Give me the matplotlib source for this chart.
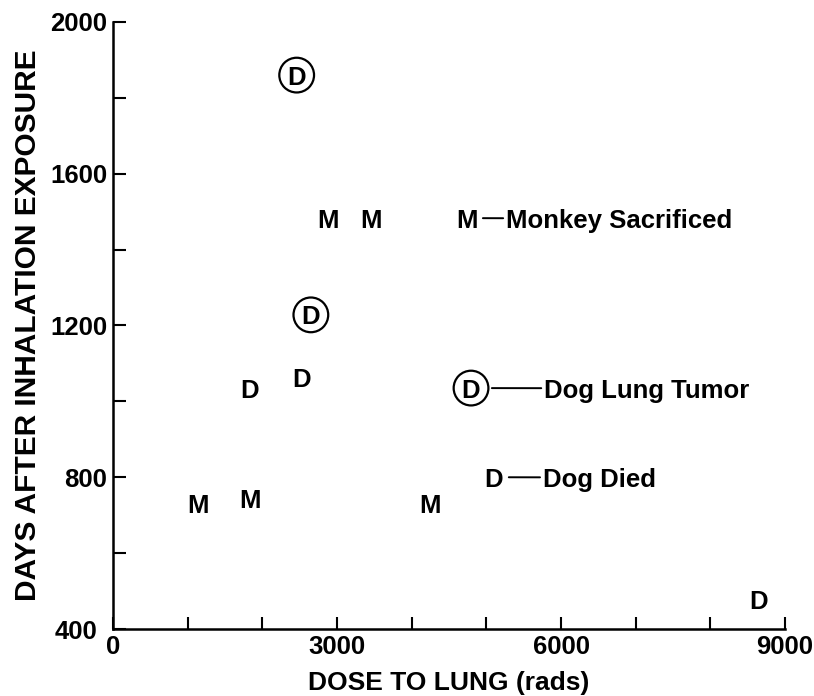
import matplotlib
matplotlib.use("Agg")
import matplotlib.pyplot as plt
import matplotlib.transforms as mtransforms

plt.rcParams['font.family'] = ['Liberation Sans', 'DejaVu Sans']
plt.rcParams['font.weight'] = 'bold'

# monkeys sacrificed (M)
monkey_x = [1140, 1835, 2880, 3455, 4245, 4740]
monkey_y = [732, 745, 1483, 1483, 732, 1483]
# dogs died (D)
dog_x = [1835, 2530, 5100, 8650]
dog_y = [1035, 1062, 800, 479]
# dogs with lung tumor (circled D)
tumor_x = [2460, 2650, 4795]
tumor_y = [1860, 1228, 1035]

x_major = [0, 3000, 6000, 9000]
x_minor = [1000, 2000, 4000, 5000, 7000, 8000]
y_major = [400, 800, 1200, 1600, 2000]
y_minor = [600, 1000, 1400, 1800]

fig = plt.figure(figsize=(8.14, 6.96), dpi=100)
ax = fig.add_axes([0.1388, 0.0963, 0.8256, 0.8721])

letter_kw = dict(ha='center', va='center_baseline', fontsize=18.5, fontweight='bold')
for x, y in zip(monkey_x, monkey_y):
    ax.text(x, y, 'M', **letter_kw)
for x, y in zip(dog_x, dog_y):
    ax.text(x, y, 'D', **letter_kw)
ax.scatter(tumor_x, tumor_y, s=25 ** 2, facecolors='none', edgecolors='black',
           linewidths=1.6, zorder=3)
for x, y in zip(tumor_x, tumor_y):
    ax.text(x, y, 'D', **letter_kw)

# key labels hanging off three of the points
keys = [
    (monkey_x[5], monkey_y[5], 'Monkey Sacrificed', 39, 11.5),
    (tumor_x[2], tumor_y[2], 'Dog Lung Tumor', 73, 15),
    (dog_x[2], dog_y[2], 'Dog Died', 49, 10.8),
]
for x, y, txt, off, shrink in keys:
    ax.annotate(txt, xy=(x, y), xytext=(off, 0), textcoords='offset pixels',
                ha='left', va='center_baseline', fontsize=18.5, fontweight='bold',
                arrowprops=dict(arrowstyle='-', lw=1.4, color='black',
                                relpos=(0, 0.6), shrinkA=0, shrinkB=shrink))

ax.set_xlim(0, 9000)
ax.set_ylim(400, 2000)
ax.set_xticks(x_major)
ax.set_xticks(x_minor, minor=True)
ax.set_yticks(y_major)
ax.set_yticks(y_minor, minor=True)
ax.tick_params(which='both', direction='in', length=9, width=1.5, labelsize=18.5, pad=4)

for s in ['top', 'right']:
    ax.spines[s].set_visible(False)
for s in ['left', 'bottom']:
    ax.spines[s].set_linewidth(1.8)

# "400" label sits down-left of the origin
lab400 = ax.yaxis.get_major_ticks()[0].label1
lab400.set_transform(lab400.get_transform() +
                     mtransforms.ScaledTranslation(-0.10, -0.01, fig.dpi_scale_trans))

ax.set_xlabel('DOSE TO LUNG (rads)', fontsize=19, fontweight='bold', labelpad=9)
ax.set_ylabel('DAYS AFTER INHALATION EXPOSURE', fontsize=21.5, fontweight='bold', labelpad=6)

fig.savefig('out.png', dpi=100)
